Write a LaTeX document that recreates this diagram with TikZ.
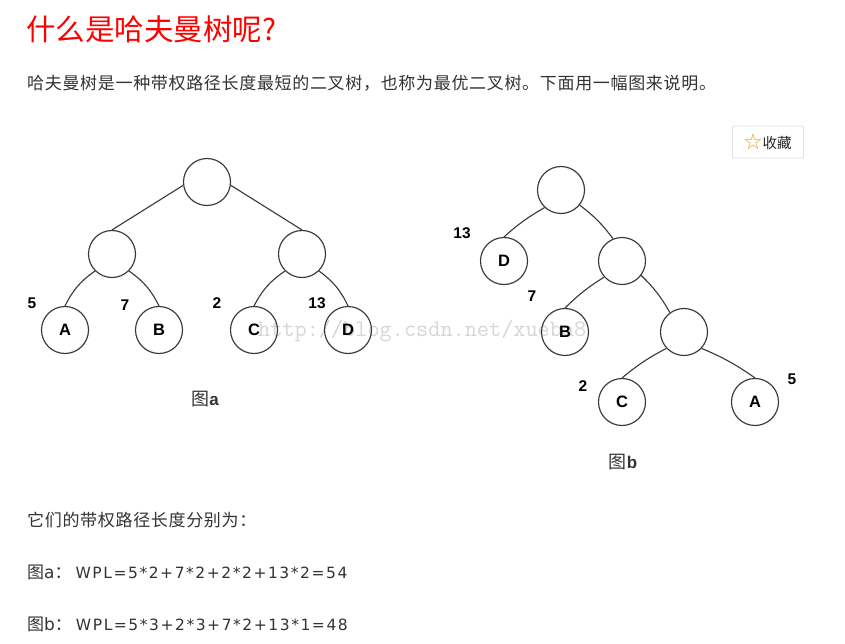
\documentclass[tikz,border=0pt]{standalone}
\usepackage{fontspec}
\setmainfont{DejaVu Sans}
\newfontfamily\cjk[LetterSpace=4]{Noto Sans CJK SC}
\newfontfamily\cjkplain{Noto Sans CJK SC}
\newfontfamily\latinfont[LetterSpace=10]{DejaVu Sans}
\newfontfamily\labelfont{Liberation Sans}
\definecolor{txtgray}{HTML}{333333}
\definecolor{linegray}{HTML}{383838}
\definecolor{staror}{HTML}{F5A623}
\definecolor{btnline}{HTML}{E0E0E0}
\definecolor{wmgray}{HTML}{D6D6D6}

\begin{document}
\begin{tikzpicture}[x=1pt, y=-1pt,
    treenode/.style={circle, draw=linegray, line width=1.15pt, minimum size=47pt, inner sep=0pt,
                     font=\labelfont\bfseries\fontsize{16.5}{18}\selectfont},
    weight/.style={inner sep=0pt, font=\labelfont\bfseries\fontsize{15.5}{17}\selectfont},
    branch/.style={draw=linegray, line width=1.1pt},
    caption/.style={inner sep=0pt, font=\cjkplain\fontsize{18}{20}\selectfont, text=black!80},
    textline/.style={anchor=west, inner sep=0pt, text=txtgray, font=\cjk\fontsize{17}{19}\selectfont}]
    \useasboundingbox[fill=white] (0,0) rectangle (845,644);

    % Titel und Einleitung
    \node[anchor=west, inner sep=0pt, text=red, font=\cjkplain\fontsize{29.5}{32}\selectfont] (title) at (26,29) {什么是哈夫曼树呢?};
    \node[textline] (intro) at (27,83) {哈夫曼树是一种带权路径长度最短的二叉树，也称为最优二叉树。下面用一幅图来说明。};

    % Knopf "收藏"
    \node[draw=btnline, line width=0.8pt, rounded corners=2pt, minimum width=71pt, minimum height=32pt, inner sep=0pt,
          font=\cjkplain\fontsize{14.5}{16}\selectfont, text=black!85] (fav) at (768,142) {{\color{staror}\fontsize{18}{18}\selectfont ☆}收藏};

    % Wasserzeichen
    \node[anchor=west, inner sep=0pt, text=wmgray, font=\ttfamily\fontsize{23.6}{25}\selectfont] (watermark) at (258,331) {http://blog.csdn.net/xueba8};

    % Baum a
    \node[treenode] (aroot) at (207,182) {};
    \node[treenode] (aleft) at (112,254) {};
    \node[treenode] (aright) at (302,254) {};
    \node[treenode] (aA) at (65,330) {A};
    \node[treenode] (aB) at (159,330) {B};
    \node[treenode] (aC) at (254,330) {C};
    \node[treenode] (aD) at (348,330) {D};
    \draw[branch] (aroot.188) -- (aleft.north);
    \draw[branch] (aroot.-8) -- (aright.north);
    \draw[branch] (aleft.225) to[bend right=14] (aA.north);
    \draw[branch] (aleft.-45) to[bend left=14] (aB.north);
    \draw[branch] (aright.225) to[bend right=14] (aC.north);
    \draw[branch] (aright.-45) to[bend left=14] (aD.north);

    % Gewichte a
    \node[weight] (wa5) at (32,303) {5};
    \node[weight] (wa7) at (125,305) {7};
    \node[weight] (wa2) at (217,303) {2};
    \node[weight] (wa13) at (317,303) {13};
    \node[caption] (capa) at (205,399) {图{\labelfont\bfseries\fontsize{17}{18}\selectfont a}};

    % Baum b
    \node[treenode] (broot) at (561,190) {};
    \node[treenode] (bD) at (504,261) {D};
    \node[treenode] (bmid) at (622,261) {};
    \node[treenode] (bB) at (565,332) {B};
    \node[treenode] (blow) at (684,332) {};
    \node[treenode] (bC) at (622,402) {C};
    \node[treenode] (bA) at (755,402) {A};
    \draw[branch] (broot.227) to[bend right=6] (bD.north);
    \draw[branch] (broot.-39) to[bend left=8] (bmid.112);
    \draw[branch] (bmid.222) to[bend right=6] (bB.north);
    \draw[branch] (bmid.-37) to[bend left=8] (blow.126);
    \draw[branch] (blow.223) to[bend right=6] (bC.north);
    \draw[branch] (blow.-43) to[bend left=6] (bA.north);

    % Gewichte b
    \node[weight] (wb13) at (462,233) {13};
    \node[weight] (wb7) at (532,296) {7};
    \node[weight] (wb2) at (583,386) {2};
    \node[weight] (wb5) at (792,379) {5};
    \node[caption] (capb) at (623,462) {图{\labelfont\bfseries\fontsize{17}{18}\selectfont b}};

    % Ergebnisse
    \node[textline] (sumtitle) at (27,520) {它们的带权路径长度分别为：};
    \node[textline] (suma) at (27,572) {图{\latinfont a}：\hspace{4pt}{\latinfont\fontsize{15.5}{17}\selectfont WPL=5*2+7*2+2*2+13*2=54}};
    \node[textline] (sumb) at (27,624) {图{\latinfont b}：\hspace{4pt}{\latinfont\fontsize{15.5}{17}\selectfont WPL=5*3+2*3+7*2+13*1=48}};
\end{tikzpicture}
\end{document}
